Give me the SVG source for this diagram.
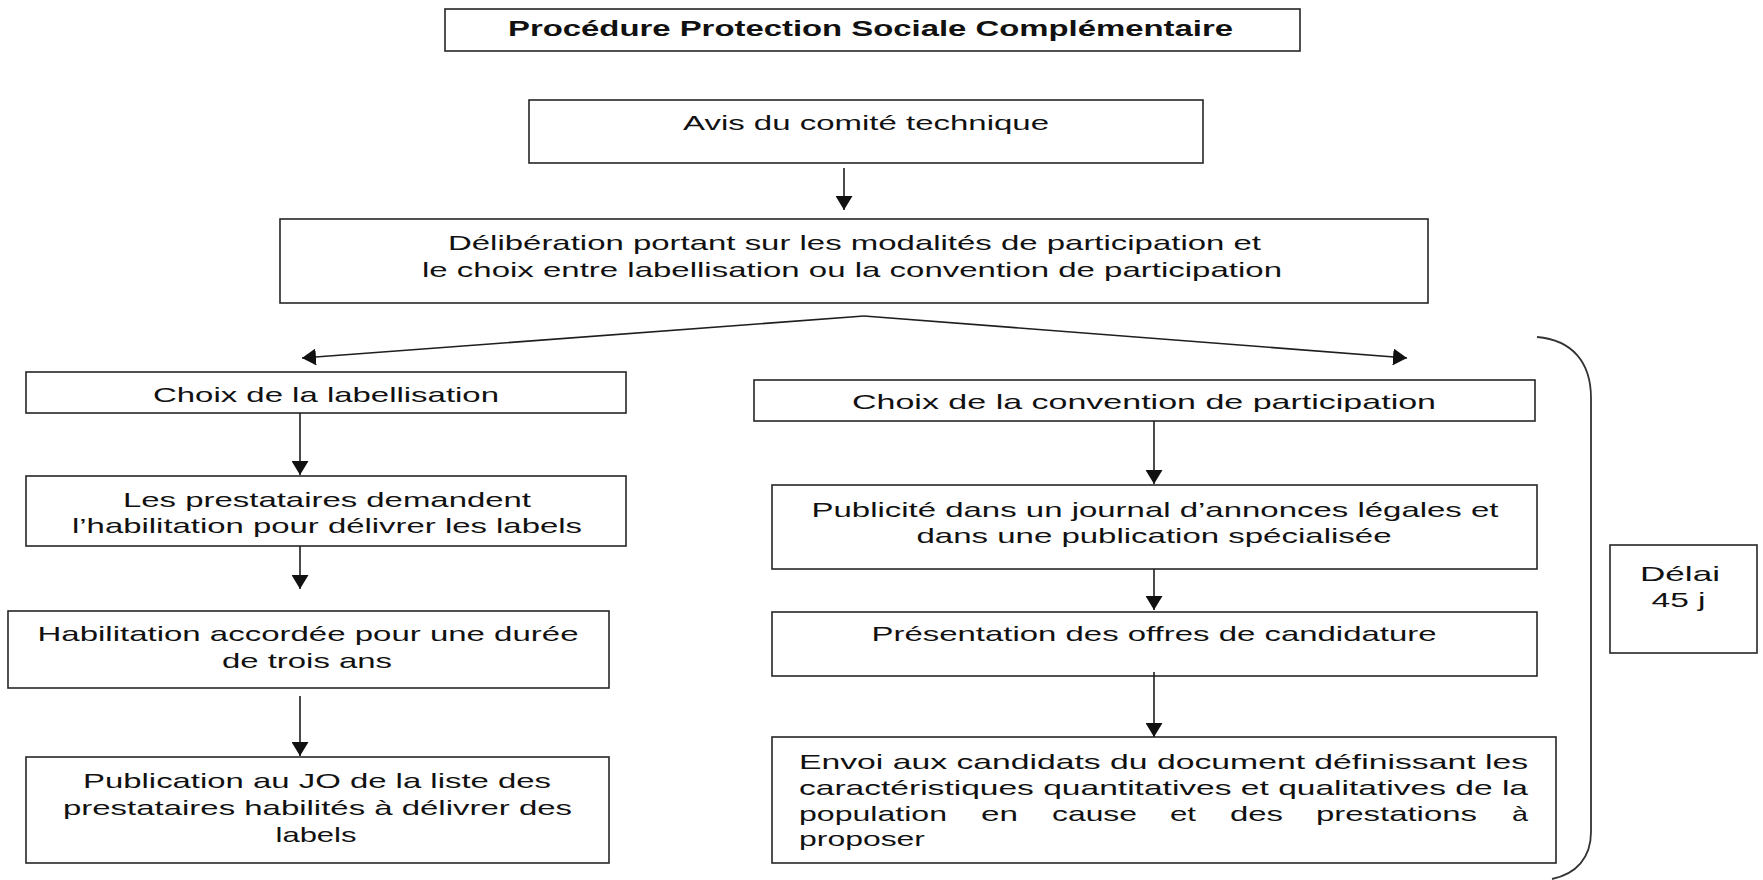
<svg xmlns="http://www.w3.org/2000/svg" width="1763" height="880" viewBox="0 0 1763 880">
  <style>
    .box { fill: #ffffff; stroke: #262626; stroke-width: 1.6; }
    .t { font-family: "Liberation Sans", Arial, sans-serif; font-size: 21px; fill: #111111; }
    .c { text-anchor: middle; }
    .title { font-family: "Liberation Sans", Arial, sans-serif; font-size: 22px; font-weight: bold; fill: #111111; text-anchor: middle; }
    .link { fill: none; stroke: #1e1e1e; stroke-width: 1.6; marker-end: url(#arrow); }
    .brace { fill: none; stroke: #333333; stroke-width: 1.8; }
  </style>
  <defs>
    <marker id="arrow" viewBox="0 0 14 17" refX="14" refY="8.5" markerWidth="14" markerHeight="17" markerUnits="userSpaceOnUse" orient="auto">
      <path d="M0,0 L14,8.5 L0,17 z" fill="#111111"/>
    </marker>
    <clipPath id="clipConv">
      <rect x="754" y="380" width="781" height="32"/>
    </clipPath>
  </defs>

  <rect x="0" y="0" width="1763" height="880" fill="#ffffff"/>

  <!-- title -->
  <g id="title">
    <rect class="box" x="445" y="9" width="855" height="42"/>
    <text class="title" x="870.5" y="36" textLength="725" lengthAdjust="spacingAndGlyphs">Procédure Protection Sociale Complémentaire</text>
  </g>

  <g id="avis">
    <rect class="box" x="529" y="100" width="674" height="63"/>
    <text class="t c" x="866" y="130" textLength="366" lengthAdjust="spacingAndGlyphs">Avis du comité technique</text>
  </g>

  <g id="deliberation">
    <rect class="box" x="280" y="219" width="1148" height="84"/>
    <text class="t c" x="854.5" y="250" textLength="813" lengthAdjust="spacingAndGlyphs">Délibération portant sur les modalités de participation et</text>
    <text class="t c" x="852" y="277" textLength="860" lengthAdjust="spacingAndGlyphs">le choix entre labellisation ou la convention de participation</text>
  </g>

  <!-- left branch: labellisation -->
  <g id="choix-labellisation">
    <rect class="box" x="26" y="372" width="600" height="41"/>
    <text class="t c" x="326" y="402" textLength="346" lengthAdjust="spacingAndGlyphs">Choix de la labellisation</text>
  </g>

  <g id="demande-habilitation">
    <rect class="box" x="26" y="476" width="600" height="70"/>
    <text class="t c" x="327" y="507" textLength="408" lengthAdjust="spacingAndGlyphs">Les prestataires demandent</text>
    <text class="t c" x="327" y="533" textLength="510" lengthAdjust="spacingAndGlyphs">l’habilitation pour délivrer les labels</text>
  </g>

  <g id="habilitation-accordee">
    <rect class="box" x="8" y="611" width="601" height="77"/>
    <text class="t c" x="308" y="641" textLength="541" lengthAdjust="spacingAndGlyphs">Habilitation accordée pour une durée</text>
    <text class="t c" x="307" y="668" textLength="170" lengthAdjust="spacingAndGlyphs">de trois ans</text>
  </g>

  <g id="publication-jo">
    <rect class="box" x="26" y="757" width="583" height="106"/>
    <text class="t c" x="317" y="788" textLength="468" lengthAdjust="spacingAndGlyphs">Publication au JO de la liste des</text>
    <text class="t c" x="317.5" y="815" textLength="509" lengthAdjust="spacingAndGlyphs">prestataires habilités à délivrer des</text>
    <text class="t c" x="316" y="842" textLength="81" lengthAdjust="spacingAndGlyphs">labels</text>
  </g>

  <!-- right branch: convention de participation -->
  <g id="choix-convention">
    <rect class="box" x="754" y="380" width="781" height="41"/>
    <text class="t c" x="1144" y="409" textLength="584" lengthAdjust="spacingAndGlyphs" clip-path="url(#clipConv)">Choix de la convention de participation</text>
  </g>

  <g id="publicite">
    <rect class="box" x="772" y="485" width="765" height="84"/>
    <text class="t c" x="1155" y="517" textLength="687" lengthAdjust="spacingAndGlyphs">Publicité dans un journal d’annonces légales et</text>
    <text class="t c" x="1154" y="543" textLength="475" lengthAdjust="spacingAndGlyphs">dans une publication spécialisée</text>
  </g>

  <g id="presentation-offres">
    <rect class="box" x="772" y="612" width="765" height="64"/>
    <text class="t c" x="1154" y="641" textLength="565" lengthAdjust="spacingAndGlyphs">Présentation des offres de candidature</text>
  </g>

  <g id="envoi-document">
    <rect class="box" x="772" y="737" width="784" height="126"/>
    <text class="t" x="799" y="769" textLength="729" lengthAdjust="spacingAndGlyphs">Envoi aux candidats du document définissant les</text>
    <text class="t" x="799" y="795" textLength="729" lengthAdjust="spacingAndGlyphs">caractéristiques quantitatives et qualitatives de la</text>
    <!-- justified line: words placed one by one -->
    <text class="t" x="799" y="821" textLength="148" lengthAdjust="spacingAndGlyphs">population</text>
    <text class="t" x="981" y="821" textLength="37" lengthAdjust="spacingAndGlyphs">en</text>
    <text class="t" x="1052" y="821" textLength="85" lengthAdjust="spacingAndGlyphs">cause</text>
    <text class="t" x="1170" y="821" textLength="26" lengthAdjust="spacingAndGlyphs">et</text>
    <text class="t" x="1230" y="821" textLength="53" lengthAdjust="spacingAndGlyphs">des</text>
    <text class="t" x="1316" y="821" textLength="161" lengthAdjust="spacingAndGlyphs">prestations</text>
    <text class="t" x="1512" y="821" textLength="16" lengthAdjust="spacingAndGlyphs">à</text>
    <text class="t" x="799" y="846" textLength="126" lengthAdjust="spacingAndGlyphs">proposer</text>
  </g>

  <g id="delai">
    <rect class="box" x="1610" y="545" width="147" height="108"/>
    <text class="t c" x="1680" y="581" textLength="80" lengthAdjust="spacingAndGlyphs">Délai</text>
    <text class="t c" x="1678.5" y="607" textLength="54" lengthAdjust="spacingAndGlyphs">45 j</text>
  </g>

  <!-- brace grouping the convention steps -->
  <g id="brace">
    <path class="brace" d="M1537,337 C1572,340 1591,362 1591,398 L1591,832 C1591,858 1576,874 1552,879"/>
  </g>

  <!-- connectors -->
  <g id="connectors">
    <line class="link" x1="844" y1="168" x2="844" y2="210"/>
    <line class="link" x1="864" y1="316" x2="302" y2="358"/>
    <line class="link" x1="864" y1="316" x2="1407" y2="358"/>
    <line class="link" x1="300" y1="413" x2="300" y2="475"/>
    <line class="link" x1="300" y1="546" x2="300" y2="589"/>
    <line class="link" x1="300" y1="696" x2="300" y2="756"/>
    <line class="link" x1="1154" y1="421" x2="1154" y2="484"/>
    <line class="link" x1="1154" y1="569" x2="1154" y2="610"/>
    <line class="link" x1="1154" y1="672" x2="1154" y2="737"/>
  </g>
</svg>
